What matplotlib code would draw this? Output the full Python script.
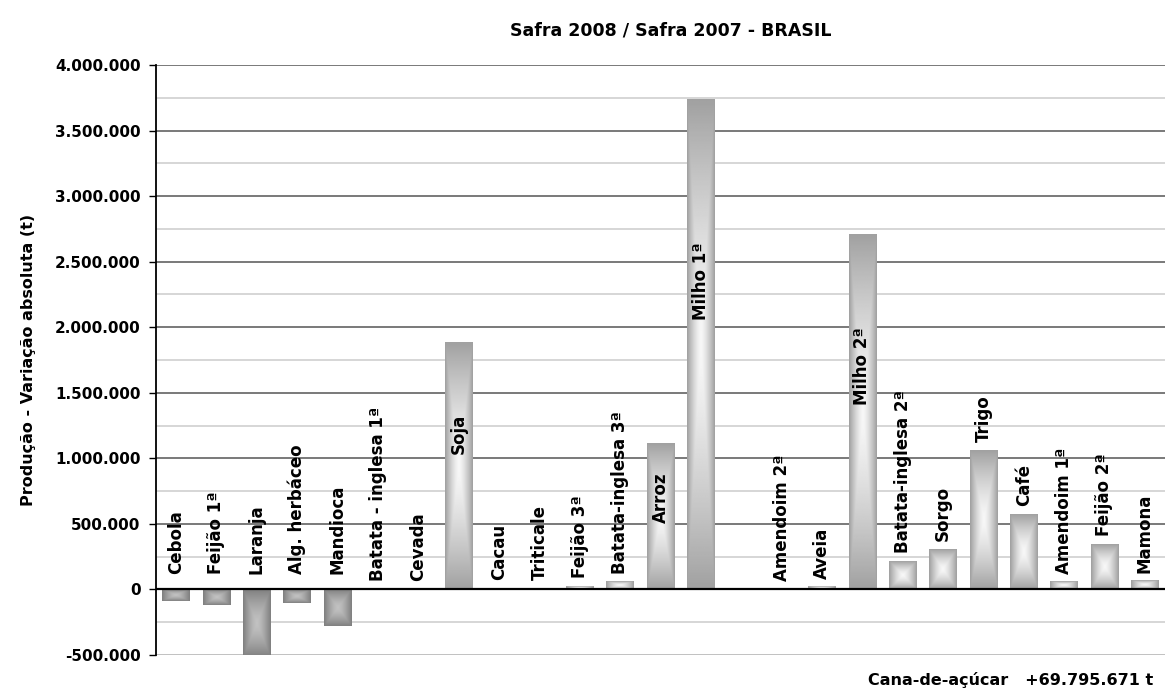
import numpy as np
import matplotlib
matplotlib.use("Agg")
from matplotlib import pyplot as plt
from matplotlib.ticker import MultipleLocator, FuncFormatter

# Variação absoluta da produção (t), safra 2008 / safra 2007
culturas = ["Cebola", "Feijão 1ª", "Laranja", "Alg. herbáceo", "Mandioca",
            "Batata - inglesa 1ª", "Cevada", "Soja", "Cacau", "Triticale",
            "Feijão 3ª", "Batata-inglesa 3ª", "Arroz", "Milho 1ª", "",
            "Amendoim 2ª", "Aveia", "Milho 2ª", "Batata-inglesa 2ª", "Sorgo",
            "Trigo", "Café", "Amendoim 1ª", "Feijão 2ª", "Mamona"]
variacao = [-90000, -120000, -515000, -100000, -280000,
            0, 0, 1880000, 5000, 6000,
            22000, 55000, 1110000, 3735000, 0,
            0, 17000, 2700000, 213000, 302000,
            1060000, 570000, 56000, 343000, 63000]
cana = 69795671  # cana-de-acucar fica fora da escala


def fmt_br(v, pos=None):
    s = f"{abs(int(v)):,}".replace(",", ".")
    return "-" + s if v < 0 else s


def gradiente(ax, x0, x1, y0, y1, cor_borda, cor_centro):
    # preenchimento "do centro" estilo Excel
    nx, ny = 40, 300
    xn = np.abs(np.linspace(-1, 1, nx))
    yn = np.abs(np.linspace(-1, 1, ny))
    t = np.maximum(xn[None, :], yn[:, None]) ** 1.4
    img = cor_centro + (cor_borda - cor_centro) * t
    ax.imshow(img, extent=[x0, x1, y0, y1], cmap="gray", vmin=0, vmax=1,
              aspect="auto", interpolation="bilinear", zorder=3)


fig = plt.figure(figsize=(11.69, 6.89), dpi=100)
ax = fig.add_axes([0.1334, 0.0493, 0.8632, 0.8564])

x = np.arange(len(culturas))
largura = 0.68

for i, v in zip(x, variacao):
    if v == 0:
        continue
    if v > 0:
        gradiente(ax, i - largura / 2, i + largura / 2, 0, v, 0.63, 0.97)
    else:
        gradiente(ax, i - largura / 2, i + largura / 2, v, 0, 0.50, 0.76)

# rotulos das culturas
for i, (nome, v) in enumerate(zip(culturas, variacao)):
    if not nome:
        continue
    if v > 1090000:
        ax.text(i, 0.63 * v, nome, rotation=90, ha="center", va="center",
                fontsize=12, fontweight="bold", zorder=5)
    else:
        pad = 65000 if v >= 0 else 120000
        ax.text(i, max(v, 0) + pad, nome, rotation=90, ha="center", va="bottom",
                fontsize=12, fontweight="bold", zorder=5)

ax.set_xlim(-0.5, len(culturas) - 0.5)
ax.set_ylim(-500000, 4000000)

# grade
for y in np.arange(-250000, 4000001, 250000):
    if y == 0:
        continue
    if y > 0 and y % 500000 == 0:
        ax.axhline(y, color="#555555", lw=1.1, zorder=1)
    else:
        ax.axhline(y, color="#cccccc", lw=1.1, zorder=1)
ax.axhline(-500000, color="#bbbbbb", lw=2, zorder=1)
ax.axhline(0, color="black", lw=1.6, zorder=4)

ax.yaxis.set_major_locator(MultipleLocator(500000))
ax.yaxis.set_major_formatter(FuncFormatter(fmt_br))
ax.tick_params(axis="y", direction="out", length=5, width=1, labelsize=11, pad=6)
for lb in ax.get_yticklabels():
    lb.set_fontweight("bold")
ax.set_xticks([])
for s in ["top", "right", "bottom"]:
    ax.spines[s].set_visible(False)
ax.spines["left"].set_linewidth(1.3)

fig.text(0.574, 0.956, "Safra 2008 / Safra 2007 - BRASIL", ha="center", va="center",
         fontsize=12.5, fontweight="bold")
fig.text(0.024, 0.4775, "Produção - Variação absoluta (t)", rotation=90,
         ha="center", va="center", fontsize=11.5, fontweight="bold")
fig.text(0.9863, 0.013, f"Cana-de-açúcar   +{fmt_br(cana)} t", ha="right", va="center",
         fontsize=11.5, fontweight="bold")

fig.savefig("out.png", dpi=100)
